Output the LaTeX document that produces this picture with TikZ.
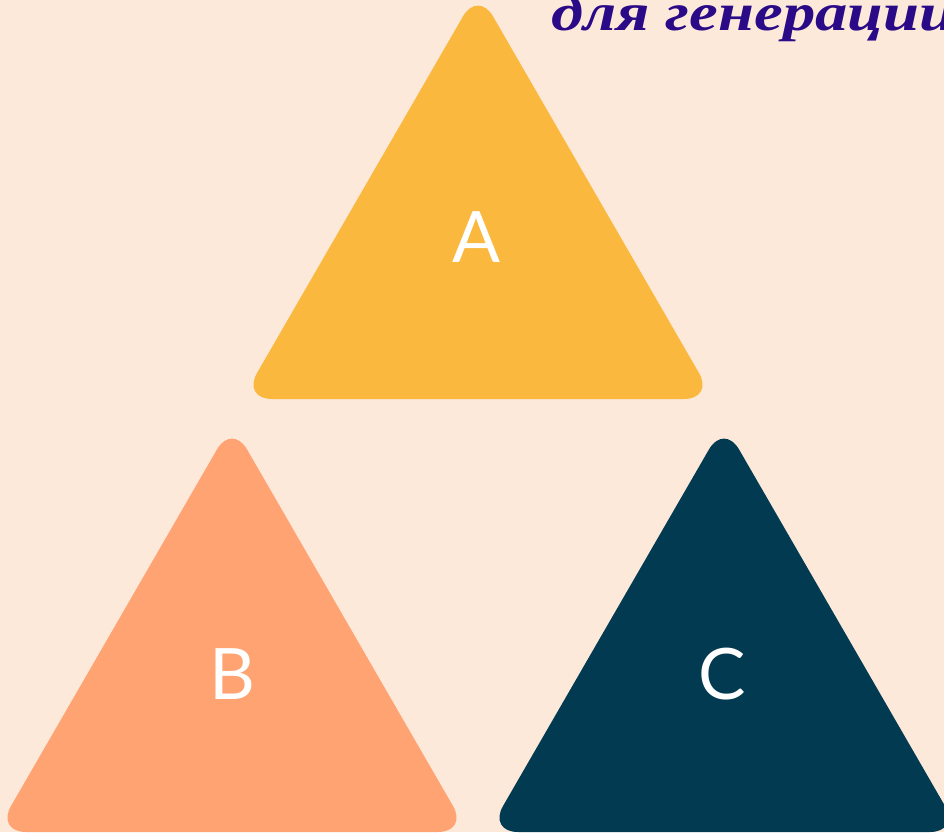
\documentclass[tikz,border=0pt]{standalone}
\usepackage{fontspec}
\setmainfont{Liberation Serif}
\newfontfamily\lblfont{Lato}
\definecolor{bgc}{HTML}{FCE9DA}
\definecolor{ca}{HTML}{FAB83E}
\definecolor{cb}{HTML}{FFA372}
\definecolor{cc}{HTML}{023A51}
\definecolor{ttl}{HTML}{2A0A87}
\tikzset{
  tri/.style={rounded corners=30pt},
  lbl/.style={text=white, font=\lblfont\fontsize{71}{71}\selectfont, inner sep=0pt},
}
\begin{document}
\begin{tikzpicture}[x=1pt,y=-1pt]
\useasboundingbox (0,0) rectangle (944,832);
\clip (0,0) rectangle (944,832);
\fill[bgc] (0,0) rectangle (944,832);
% triangles
\fill[ca,tri] (478,-9.6) -- (714,399) -- (242,399) -- cycle;
\fill[cb,tri] (232,423.4) -- (468,832) -- (-4,832) -- cycle;
\fill[cc,tri] (724,423.4) -- (960,832) -- (488,832) -- cycle;
% labels
\node[lbl] (la) at (477,237) {A};
\node[lbl] (lb) at (232,674) {B};
\node[lbl] (lc) at (722,674) {C};
% title (cut off at the top and right edge, as in the reference)
\node[anchor=base west, inner sep=0pt, text=ttl, xscale=1.22,
      font=\bfseries\itshape\fontsize{53}{53}\selectfont] (title) at (551,31) {для генерации};
\end{tikzpicture}
\end{document}
